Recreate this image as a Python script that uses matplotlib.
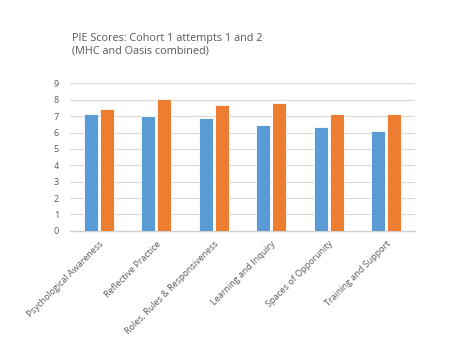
import matplotlib
matplotlib.use("Agg")
import matplotlib.pyplot as plt
import numpy as np

categories = ["Psychological Awareness", "Reflective Practice", "Roles, Rules & Responsiveness",
              "Learning and Inquiry", "Spaces of Opporunity", "Training and Support"]
attempt1 = [7.1, 7.02, 6.86, 6.43, 6.31, 6.09]
attempt2 = [7.45, 8.02, 7.65, 7.78, 7.12, 7.12]
yticks = list(range(0, 10))

plt.rcParams['font.family'] = ['Open Sans', 'DejaVu Sans']

fig = plt.figure(figsize=(4.52, 3.43), dpi=100)
ax = fig.add_axes([0.155, 0.327, 0.763, 0.430])

x = np.arange(len(categories))
w = 0.24
ax.bar(x - 0.14, attempt1, width=w, color="#5b9bd5", edgecolor="white", linewidth=0.6, zorder=3)
ax.bar(x + 0.14, attempt2, width=w, color="#ed7d31", edgecolor="white", linewidth=0.6, zorder=3)

ax.set_xlim(-0.5, len(categories) - 0.5)
ax.set_ylim(0, 9)
ax.set_yticks(yticks)
ax.set_yticklabels([str(t) for t in yticks])
ax.yaxis.grid(True, color="#d9d9d9", linewidth=0.8, zorder=0)
ax.set_axisbelow(True)
for s in ["top", "right", "left"]:
    ax.spines[s].set_visible(False)
ax.spines["bottom"].set_color("#d0d0d0")
ax.spines["bottom"].set_linewidth(1.0)
ax.tick_params(axis="both", length=0, colors="#595959", labelsize=6.5)
ax.tick_params(axis="y", pad=8)
ax.set_xticks(x)
ax.set_xticklabels(categories, rotation=45, ha="right", rotation_mode="anchor", fontsize=6.5)
ax.tick_params(axis="x", pad=6)

fig.text(0.159, 0.905, "PIE Scores: Cohort 1 attempts 1 and 2\n(MHC and Oasis combined)",
         fontsize=7.8, color="#595959", va="top", ha="left", linespacing=1.25)

fig.savefig("out.png", dpi=100)
